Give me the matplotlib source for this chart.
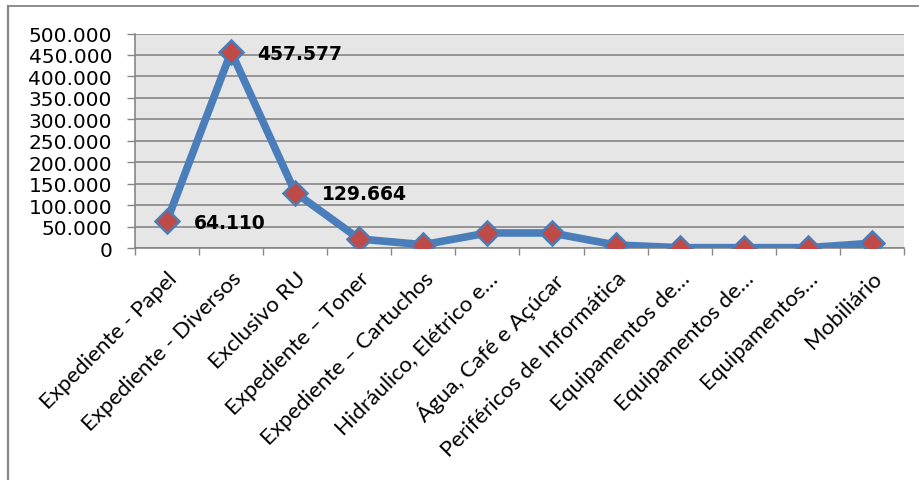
import matplotlib.pyplot as plt
from matplotlib.ticker import FuncFormatter, FixedLocator
from matplotlib.lines import Line2D
from matplotlib.transforms import ScaledTranslation

categorias = ['Expediente - Papel', 'Expediente - Diversos', 'Exclusivo RU',
              'Expediente \u2013 Toner', 'Expediente \u2013 Cartuchos',
              'Hidr\u00e1ulico, El\u00e9trico e\u2026', '\u00c1gua, Caf\u00e9 e A\u00e7\u00facar',
              'Perif\u00e9ricos de Inform\u00e1tica', 'Equipamentos de\u2026',
              'Equipamentos de\u2026', 'Equipamentos\u2026', 'Mobili\u00e1rio']
valores = [64110, 457577, 129664, 21700, 8400, 35700, 35700, 7700, 1500, 1500, 1500, 11700]
rotulos = {0: '64.110', 1: '457.577', 2: '129.664'}

fig = plt.figure(figsize=(9.19, 4.81), dpi=100)
ax = fig.add_axes([135 / 919, 1 - 249.3 / 481, (904 - 135) / 919, (249.3 - 34.5) / 481])
ax.set_facecolor('#e6e6e6')

x = list(range(len(valores)))
ax.plot(x, valores, color='#4a7ebb', linewidth=5.5, solid_joinstyle='round',
        marker='D', markersize=12, markerfacecolor='#be4b48',
        markeredgecolor='#4a7ebb', markeredgewidth=1.8, zorder=3)

for i, txt in rotulos.items():
    ax.annotate(txt, (i, valores[i]), xytext=(19, -1), textcoords='offset points',
                ha='left', va='center', fontsize=13.5, fontweight='bold', zorder=4)

ax.set_xlim(-0.5, len(valores) - 0.5)
ax.set_ylim(0, 500000)
ax.set_yticks(range(0, 500001, 50000))
ax.yaxis.set_major_formatter(FuncFormatter(lambda v, p: '0' if v == 0 else f'{int(v):,}'.replace(',', '.')))
ax.yaxis.grid(True, color='#868686', linewidth=1.2)
ax.set_axisbelow(True)

ax.set_xticks(x)
ax.set_xticklabels(categorias, rotation=45, ha='right', rotation_mode='anchor',
                   fontsize=16, family='Lato')
desloc = ScaledTranslation(-5 / 100, -2 / 100, fig.dpi_scale_trans)
for lbl in ax.get_xticklabels():
    lbl.set_transform(lbl.get_transform() + desloc)
ax.xaxis.set_minor_locator(FixedLocator([i - 0.5 for i in range(len(valores) + 1)]))
ax.tick_params(axis='x', which='major', length=0, pad=14)
ax.tick_params(axis='x', which='minor', length=5, width=1, color='#868686')
ax.tick_params(axis='y', length=5.5, width=1, color='#868686', labelsize=14.5, pad=11)

for s in ['top', 'right']:
    ax.spines[s].set_visible(False)
for s in ['left', 'bottom']:
    ax.spines[s].set_color('#868686')
    ax.spines[s].set_linewidth(1.2)

# borda do grafico
fig.add_artist(Line2D([8 / 919, 918 / 919], [1 - 7 / 481, 1 - 7 / 481], color='#868686', linewidth=1.3))
fig.add_artist(Line2D([8 / 919, 8 / 919], [0, 1 - 7 / 481], color='#868686', linewidth=1.6))

fig.savefig('out.png', dpi=100)
